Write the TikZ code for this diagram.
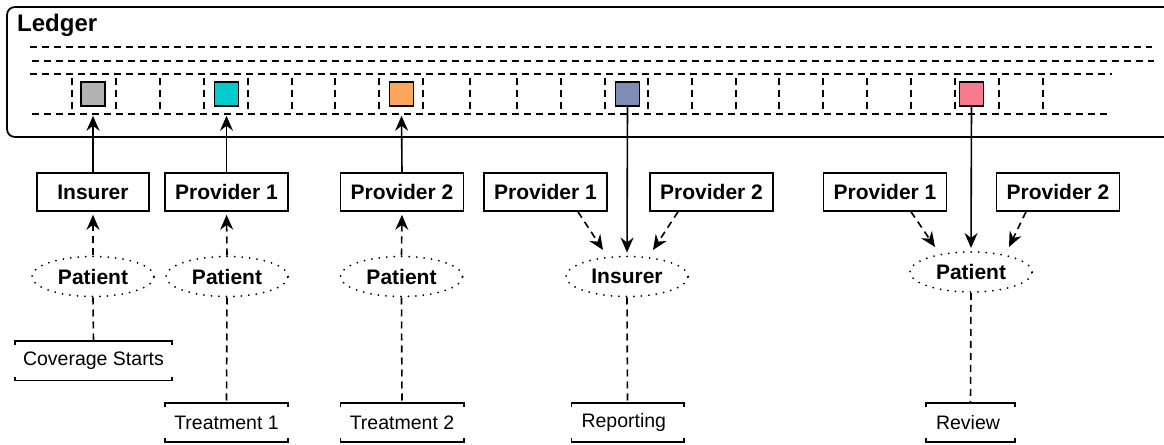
\documentclass[tikz,border=0pt]{standalone}
\usepackage{fontspec}
\setmainfont{Liberation Sans}
\usetikzlibrary{shapes.geometric,arrows.meta}
\definecolor{cgray}{HTML}{B3B3B3}
\definecolor{ccyan}{HTML}{00CCCC}
\definecolor{corange}{HTML}{FFA65C}
\definecolor{cblue}{HTML}{7E8DB1}
\definecolor{cpink}{HTML}{F77B8C}
\begin{document}
\begin{tikzpicture}[x=1bp,y=-1bp,
  lw/.style={line width=1.6bp},
  dsh/.style={lw, dash pattern=on 7bp off 5bp},
  tip/.style={-{Stealth[length=15bp,width=13bp,inset=5bp]}},
  box/.style={draw, lw, fill=white, minimum width=123bp, minimum height=38bp, inner sep=0pt, font=\bfseries\fontsize{21bp}{25bp}\selectfont},
  role/.style={draw, ellipse, line width=2bp, dash pattern=on 0bp off 7.5bp, line cap=round, minimum width=122bp, minimum height=40bp, inner sep=0pt, font=\bfseries\fontsize{21bp}{25bp}\selectfont},
  tag/.style={minimum height=39bp, inner sep=0pt, font=\fontsize{19.5bp}{23bp}\selectfont},
  sq/.style={draw, lw, minimum size=24bp, inner sep=0pt},
]
\useasboundingbox (0,0) rectangle (1164,445);
\begin{scope}
\clip (0,0) rectangle (1164,445);
\draw[line width=1.8bp, rounded corners=8bp] (7,7) rectangle (1190,137);
\end{scope}
\node[anchor=base west, font=\bfseries\fontsize{24bp}{28bp}\selectfont, inner sep=0pt] (ledger) at (17,32) {Ledger};

% ledger rows
\draw[dsh] (30,47) -- (1152,47);
\draw[dsh] (32,61) -- (1154,61);
\draw[dsh] (30,74) -- (1112,74);
\draw[dsh] (32,114) -- (1112,114);
\foreach \x in {72,116,160,204,248,292,335,379,423,470,517,561,605,648,692,736,779,823,867,911,955,999,1043}
  \draw[dsh] (\x,78) -- (\x,114);

% entries
\node[sq, fill=cgray] (s1) at (93,94) {};
\node[sq, fill=ccyan] (s2) at (226.5,94) {};
\node[sq, fill=corange] (s3) at (401.5,94) {};
\node[sq, fill=cblue] (s4) at (627.5,94) {};
\node[sq, fill=cpink] (s5) at (971.5,94) {};

% boxes
\node[box, minimum width=112bp] (b1) at (93,192) {Insurer};
\node[box] (b2) at (226.5,192) {Provider 1};
\node[box] (b3) at (402,192) {Provider 2};
\node[box] (b4a) at (545.5,192) {Provider 1};
\node[box] (b4b) at (711.5,192) {Provider 2};
\node[box] (b5a) at (885,192) {Provider 1};
\node[box] (b5b) at (1058,192) {Provider 2};

% roles
\node[role] (e1) at (93,276.5) {Patient};
\node[role] (e2) at (227,276.5) {Patient};
\node[role] (e3) at (401.5,276.5) {Patient};
\node[role] (e4) at (627,276.5) {Insurer};
\node[role] (e5) at (971,272) {Patient};

% tags
\node[tag, minimum width=157bp] (t1) at (93.5,361) {Coverage Starts};
\node[tag, minimum width=123bp] (t2) at (226.5,422.5) {Treatment 1};
\node[tag, minimum width=123bp] (t3) at (402,422.5) {Treatment 2};
\node[tag, text width=92bp, inner xsep=10bp, align=left] (t4) at (627.5,422.5) {Reporting};
\node[tag, text width=69bp, inner xsep=10bp, align=left] (t5) at (970.5,422.5) {Review};
\foreach \n in {t1,t2,t3,t4,t5} {
  \draw[lw] ([yshift=-4bp]\n.north west) -- (\n.north west) -- (\n.north east) -- ([yshift=-4bp]\n.north east);
  \draw[lw] ([yshift=4bp]\n.south west) -- (\n.south west) -- (\n.south east) -- ([yshift=4bp]\n.south east);
}

% connectors
\foreach \e/\t in {e1/t1,e2/t2,e3/t3,e4/t4,e5/t5}
  \draw[dsh] (\e.south) -- (\t.north);
\foreach \e/\b in {e1/b1,e2/b2,e3/b3}
  \draw[dsh, tip, shorten >=3bp] (\e.north) -- (\b.south);
\foreach \b/\s in {b1/s1,b2/s2,b3/s3}
  \draw[lw, tip] (\b.north) -- ([yshift=-9bp]\s.south);
\draw[lw, tip, shorten >=3bp] (s4.south) -- (e4.north);
\draw[lw, tip, shorten >=3bp] (s5.south) -- (e5.north);
\draw[dsh, tip] ([xshift=32.5bp]b4a.south) -- ([xshift=-24bp,yshift=26.5bp]e4.center);
\draw[dsh, tip] ([xshift=-33.5bp]b4b.south) -- ([xshift=26bp,yshift=26.5bp]e4.center);
\draw[dsh, tip] ([xshift=26bp]b5a.south) -- ([xshift=-36bp,yshift=25bp]e5.center);
\draw[dsh, tip] ([xshift=-32bp]b5b.south) -- ([xshift=38bp,yshift=25bp]e5.center);
\end{tikzpicture}
\end{document}
